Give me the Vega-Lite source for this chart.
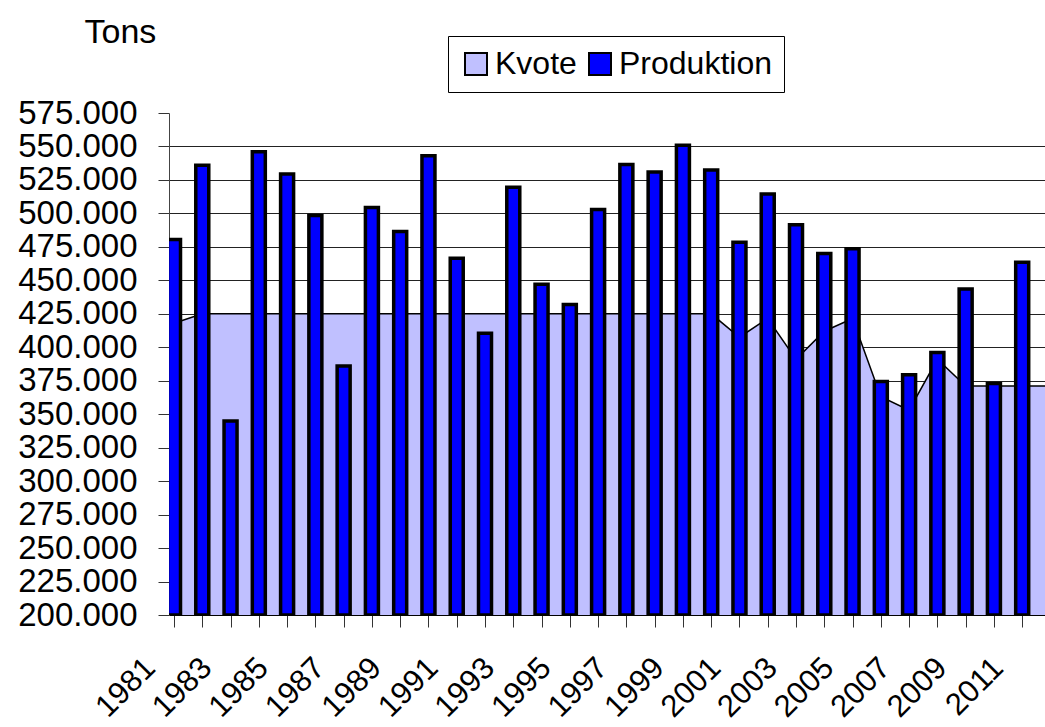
{
  "$schema": "https://vega.github.io/schema/vega-lite/v6.json",
  "width": 876,
  "height": 502,
  "autosize": {"type": "none"},
  "padding": {"left": 169, "top": 113, "right": 0, "bottom": 112},
  "background": "white",
  "config": {"view": {"stroke": null}, "font": "Liberation Sans"},
  "data": {
    "values": [
      {"year": 1981, "prod": 480500, "kvote": 418000},
      {"year": 1982, "prod": 536000, "kvote": 425000},
      {"year": 1983, "prod": 345000, "kvote": 425000},
      {"year": 1984, "prod": 546000, "kvote": 425000},
      {"year": 1985, "prod": 529500, "kvote": 425000},
      {"year": 1986, "prod": 498500, "kvote": 425000},
      {"year": 1987, "prod": 386000, "kvote": 425000},
      {"year": 1988, "prod": 504500, "kvote": 425000},
      {"year": 1989, "prod": 486500, "kvote": 425000},
      {"year": 1990, "prod": 543000, "kvote": 425000},
      {"year": 1991, "prod": 466500, "kvote": 425000},
      {"year": 1992, "prod": 410500, "kvote": 425000},
      {"year": 1993, "prod": 519500, "kvote": 425000},
      {"year": 1994, "prod": 447000, "kvote": 425000},
      {"year": 1995, "prod": 432000, "kvote": 425000},
      {"year": 1996, "prod": 503000, "kvote": 425000},
      {"year": 1997, "prod": 536500, "kvote": 425000},
      {"year": 1998, "prod": 531000, "kvote": 425000},
      {"year": 1999, "prod": 551000, "kvote": 425000},
      {"year": 2000, "prod": 532500, "kvote": 425000},
      {"year": 2001, "prod": 478500, "kvote": 407500},
      {"year": 2002, "prod": 514500, "kvote": 421500},
      {"year": 2003, "prod": 491500, "kvote": 391000},
      {"year": 2004, "prod": 470000, "kvote": 412000},
      {"year": 2005, "prod": 473500, "kvote": 421500},
      {"year": 2006, "prod": 374500, "kvote": 363000},
      {"year": 2007, "prod": 379500, "kvote": 353000},
      {"year": 2008, "prod": 396000, "kvote": 391000},
      {"year": 2009, "prod": 443500, "kvote": 371000},
      {"year": 2010, "prod": 373000, "kvote": 371000},
      {"year": 2011, "prod": 463500, "kvote": 371000},
      {"year": 2012, "prod": null, "kvote": 371000}
    ]
  },
  "encoding": {
    "x": {
      "field": "year",
      "type": "quantitative",
      "scale": {"domain": [1981, 2011.63], "nice": false, "zero": false},
      "axis": {
        "title": null,
        "grid": false,
        "values": [1981,1982,1983,1984,1985,1986,1987,1988,1989,1990,1991,1992,1993,1994,1995,1996,1997,1998,1999,2000,2001,2002,2003,2004,2005,2006,2007,2008,2009,2010,2011],
        "format": "d",
        "labelExpr": "datum.value % 2 == 1 ? datum.label : ''",
        "labelOverlap": false,
        "labelFlush": false,
        "labelBound": false,
        "labelAngle": -45,
        "labelAlign": "right",
        "labelBaseline": "middle",
        "labelPadding": 36,
        "labelOffset": -24,
        "labelFont": "Liberation Sans",
        "labelFontSize": 31,
        "labelColor": "black",
        "domainColor": "black",
        "domainWidth": 1,
        "tickColor": "#333333",
        "tickSize": 12,
        "tickWidth": 1
      }
    }
  },
  "layer": [
    {
      "mark": {"type": "area", "clip": true, "opacity": 1},
      "encoding": {
        "y": {
          "field": "kvote",
          "type": "quantitative",
          "scale": {"domain": [200000, 575000], "nice": false, "zero": false},
          "axis": {
            "title": "Tons",
            "titleAngle": 0,
            "titleAlign": "left",
            "titleBaseline": "alphabetic",
            "titleX": -85,
            "titleY": -71,
            "titleFont": "Liberation Sans",
            "titleFontSize": 34,
            "titleFontWeight": "normal",
            "titleColor": "black",
            "values": [200000,225000,250000,275000,300000,325000,350000,375000,400000,425000,450000,475000,500000,525000,550000,575000],
            "tickCount": 16,
            "format": ",d",
            "labelExpr": "replace(datum.label, ',', '.')",
            "labelFont": "Liberation Sans",
            "labelFontSize": 33,
            "labelColor": "black",
            "labelPadding": 21,
            "labelOverlap": false,
            "labelBound": false,
            "labelFlush": false,
            "tickSize": 11,
            "tickColor": "#333333",
            "domainColor": "#444444",
            "grid": true,
            "gridColor": "#222222",
            "gridWidth": 1,
            "gridOpacity": {"condition": {"test": "datum.value >= 575000", "value": 0}, "value": 1}
          }
        },
        "y2": {"datum": 200000},
        "color": {
          "datum": "Kvote",
          "scale": {"domain": ["Kvote", "Produktion"], "range": ["#C0C0FF", "#0000FF"]},
          "legend": {
            "title": null,
            "orient": "none",
            "legendX": 279,
            "legendY": -77,
            "direction": "horizontal",
            "strokeColor": "black",
            "fillColor": "white",
            "padding": 12,
            "symbolType": "square",
            "symbolSize": 484,
            "symbolStrokeColor": "black",
            "symbolStrokeWidth": 2,
            "symbolOpacity": 1,
            "labelFont": "Liberation Sans",
            "labelFontSize": 32,
            "labelColor": "black",
            "labelOffset": 3,
            "columnPadding": 7
          }
        }
      }
    },
    {
      "mark": {"type": "line", "clip": true, "color": "black", "strokeWidth": 1.5},
      "encoding": {
        "y": {
          "field": "kvote",
          "type": "quantitative",
          "axis": {
            "title": "Tons",
            "titleAngle": 0,
            "titleAlign": "left",
            "titleBaseline": "alphabetic",
            "titleX": -85,
            "titleY": -71,
            "titleFont": "Liberation Sans",
            "titleFontSize": 34,
            "titleFontWeight": "normal",
            "titleColor": "black",
            "values": [200000,225000,250000,275000,300000,325000,350000,375000,400000,425000,450000,475000,500000,525000,550000,575000],
            "tickCount": 16,
            "format": ",d",
            "labelExpr": "replace(datum.label, ',', '.')",
            "labelFont": "Liberation Sans",
            "labelFontSize": 33,
            "labelColor": "black",
            "labelPadding": 21,
            "labelOverlap": false,
            "labelBound": false,
            "labelFlush": false,
            "tickSize": 11,
            "tickColor": "#333333",
            "domainColor": "#444444",
            "grid": true,
            "gridColor": "#222222",
            "gridWidth": 1,
            "gridOpacity": {"condition": {"test": "datum.value >= 575000", "value": 0}, "value": 1}
          }
        }
      }
    },
    {
      "mark": {"type": "bar", "clip": true, "size": 13, "stroke": "black", "strokeWidth": 3.5, "opacity": 1},
      "encoding": {
        "y": {
          "field": "prod",
          "type": "quantitative",
          "axis": {
            "title": "Tons",
            "titleAngle": 0,
            "titleAlign": "left",
            "titleBaseline": "alphabetic",
            "titleX": -85,
            "titleY": -71,
            "titleFont": "Liberation Sans",
            "titleFontSize": 34,
            "titleFontWeight": "normal",
            "titleColor": "black",
            "values": [200000,225000,250000,275000,300000,325000,350000,375000,400000,425000,450000,475000,500000,525000,550000,575000],
            "tickCount": 16,
            "format": ",d",
            "labelExpr": "replace(datum.label, ',', '.')",
            "labelFont": "Liberation Sans",
            "labelFontSize": 33,
            "labelColor": "black",
            "labelPadding": 21,
            "labelOverlap": false,
            "labelBound": false,
            "labelFlush": false,
            "tickSize": 11,
            "tickColor": "#333333",
            "domainColor": "#444444",
            "grid": true,
            "gridColor": "#222222",
            "gridWidth": 1,
            "gridOpacity": {"condition": {"test": "datum.value >= 575000", "value": 0}, "value": 1}
          }
        },
        "y2": {"datum": 200000},
        "color": {"datum": "Produktion"}
      }
    }
  ]
}
